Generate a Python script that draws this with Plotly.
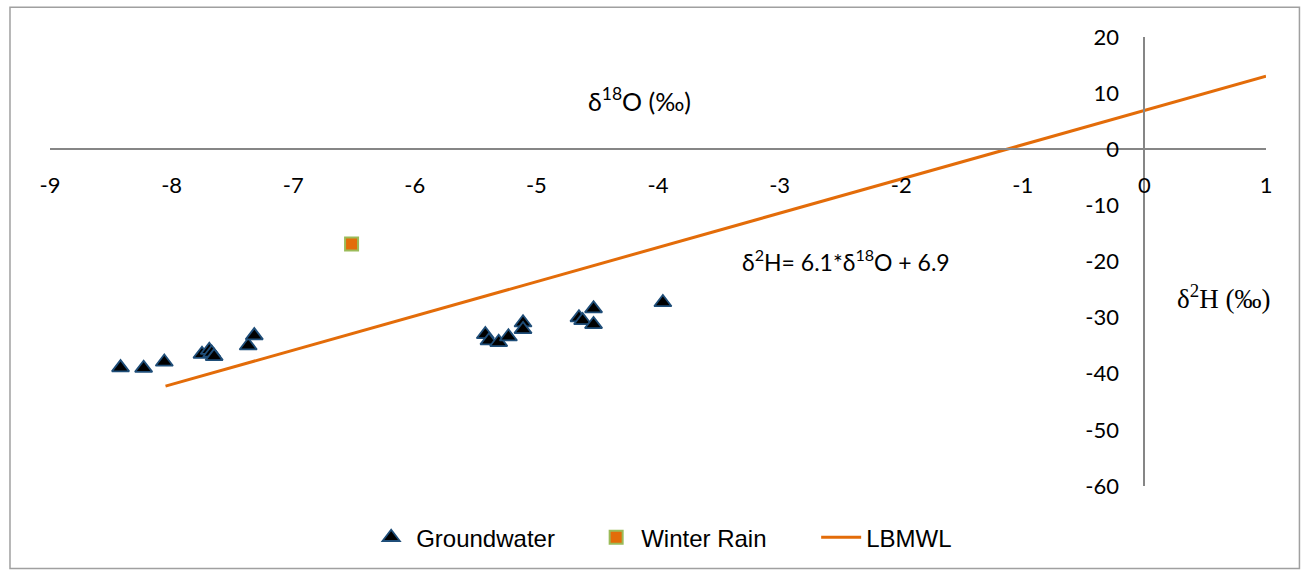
import plotly.graph_objects as go

gw_x = [-8.42, -8.23, -8.06, -7.75, -7.69, -7.67, -7.65, -7.37, -7.32,
        -5.42, -5.39, -5.31, -5.23, -5.11, -5.11, -4.65, -4.62, -4.53, -4.53, -3.96]
gw_y = [-38.9, -39.0, -37.9, -36.5, -35.8, -36.3, -36.9, -35.0, -33.2,
        -33.0, -34.1, -34.4, -33.4, -30.9, -32.1, -30.0, -30.5, -28.4, -31.2, -27.3]
rain_x = [-6.52]
rain_y = [-16.9]
line_x = [-8.05, 1.0]
line_y = [-42.2, 13.0]
x_ticks = [-9, -8, -7, -6, -5, -4, -3, -2, -1, 0, 1]
x_labels = ["-9", "-8", "-7", "-6", "-5", "-4", "-3", "-2", "-1", "0", "1"]
y_ticks = [20, 10, 0, -10, -20, -30, -40, -50, -60]
y_labels = ["20", "10", "0", "-10", "-20", "-30", "-40", "-50", "-60"]

fig = go.Figure()
fig.add_trace(go.Scatter(x=gw_x, y=gw_y, mode="markers", name="Groundwater",
                         marker=dict(symbol="triangle-up", size=15, color="#000000",
                                     line=dict(color="#1F4E79", width=1.8))))
fig.add_trace(go.Scatter(x=rain_x, y=rain_y, mode="markers", name="Winter Rain",
                         marker=dict(symbol="square", size=13, color="#E36C09",
                                     line=dict(color="#9BBB59", width=2))))
fig.add_trace(go.Scatter(x=line_x, y=line_y, mode="lines", name="LBMWL",
                         line=dict(color="#E36C09", width=3)))

tickfont = dict(family="Lato, Open Sans, sans-serif", size=22, color="#000000")
fig.update_layout(
    width=1301, height=572,
    margin=dict(l=50, r=35, t=37, b=84),
    plot_bgcolor="white", paper_bgcolor="white",
    showlegend=True,
    legend=dict(orientation="h", x=0.26, xanchor="left", y=-0.115, yanchor="middle",
                font=dict(family="Liberation Sans, Arial, sans-serif", size=24, color="#000000"),
                itemwidth=40, entrywidth=170, traceorder="normal"),
    xaxis=dict(range=[-9, 1], tickvals=x_ticks, ticktext=x_labels, showgrid=False, zeroline=False,
               showline=True, linecolor="#868686", linewidth=2,
               anchor="free", position=0.75, ticks="", ticklabelstandoff=16,
               tickfont=tickfont),
    yaxis=dict(range=[-60, 20], tickvals=y_ticks, ticktext=y_labels, showgrid=False, zeroline=False,
               showline=True, linecolor="#868686", linewidth=2,
               anchor="free", position=0.9, ticks="", ticklabelstandoff=20,
               tickfont=tickfont),
)

fig.add_shape(type="rect", xref="paper", yref="paper",
              x0=-0.0329, x1=1.0275, y0=-0.184, y1=1.0665,
              line=dict(color="#A0A0A0", width=1.5), fillcolor="rgba(0,0,0,0)", layer="below")

fig.add_annotation(x=-4.15, y=8.8, xref="x", yref="y", showarrow=False,
                   text="δ<sup>18</sup>O (‰)",
                   font=dict(family="Lato, Open Sans, sans-serif", size=25, color="#000000"))
fig.add_annotation(x=0.65, y=-26.3, xref="x", yref="y", showarrow=False,
                   text="δ<sup>2</sup>H (‰)",
                   font=dict(family="Liberation Serif, Times New Roman, serif", size=27, color="#000000"))
fig.add_annotation(x=-2.45, y=-19.9, xref="x", yref="y", showarrow=False,
                   text="δ<sup>2</sup>H= 6.1*δ<sup>18</sup>O + 6.9",
                   font=dict(family="Lato, Open Sans, sans-serif", size=23, color="#000000"))

fig.write_html("out.html")
